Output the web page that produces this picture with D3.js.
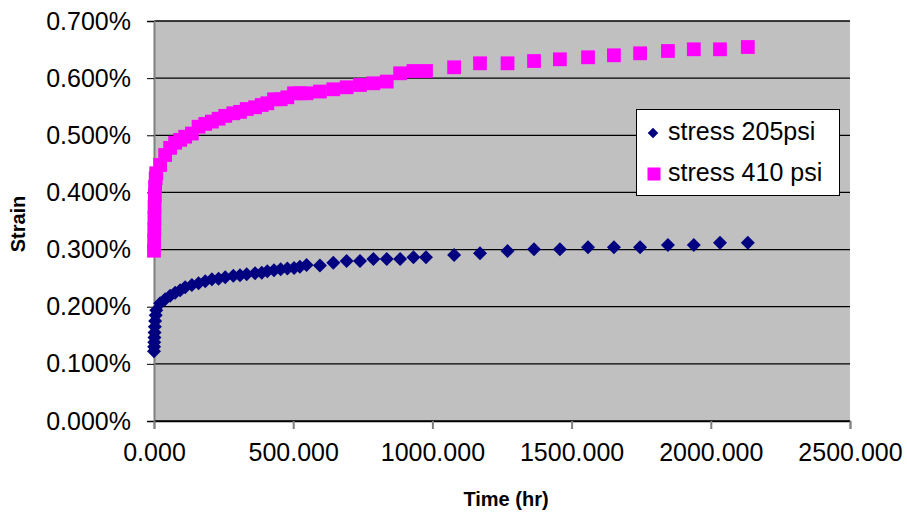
<!DOCTYPE html>
<html lang="en">
<head>
<meta charset="UTF-8">
<title>Strain vs Time</title>
<script src="https://d3js.org/d3.v7.min.js"></script>
<style>
  body { margin: 0; background: #fff; font-family: Arial, "Liberation Sans", sans-serif; }
  #chart { width: 907px; height: 516px; }
</style>
</head>
<body>
<div id="chart"></div>
<script>
// test times (hr), shared by both series
const times = [0, 0.5, 1, 1.5, 2, 3, 4, 6, 8,
  22, 40, 58, 76, 94, 112, 136, 160, 184, 208, 232, 256, 285, 309, 333, 363, 387, 407, 431, 455, 479, 503, 524, 548,
  596, 644, 692, 740, 788, 836, 884, 932, 977,
  1078, 1171, 1270, 1365, 1458, 1559, 1652, 1746, 1846, 1939, 2033, 2133];

// strain in percent
const strain205 = [0.122, 0.130, 0.138, 0.146, 0.155, 0.165, 0.175, 0.185, 0.194,
  0.206, 0.213, 0.219, 0.2245, 0.229, 0.234, 0.238, 0.241, 0.2445, 0.248, 0.249, 0.2515, 0.254, 0.255, 0.257, 0.2585, 0.2595, 0.262, 0.2637, 0.2655, 0.267, 0.2678, 0.270, 0.273,
  0.272, 0.277, 0.280, 0.280, 0.2835, 0.2835, 0.2835, 0.2865, 0.2865,
  0.2905, 0.2935, 0.2975, 0.3005, 0.3005, 0.304, 0.304, 0.304, 0.308, 0.308, 0.312, 0.312];

const strain410 = [0.298, 0.315, 0.335, 0.355, 0.375, 0.395, 0.41, 0.425, 0.4335,
  0.448, 0.4655, 0.478, 0.487, 0.492, 0.4975, 0.503, 0.515, 0.520, 0.524, 0.529, 0.534, 0.5385, 0.541, 0.546, 0.549, 0.553, 0.556, 0.563, 0.563, 0.5665, 0.5735, 0.5735, 0.5735,
  0.5765, 0.5805, 0.584, 0.588, 0.591, 0.594, 0.6085, 0.6125, 0.6125,
  0.619, 0.626, 0.626, 0.630, 0.633, 0.6365, 0.640, 0.6435, 0.6475, 0.6505, 0.6505, 0.6545];

const seriesNames = ["stress 205psi", "stress 410 psi"];
const xTicks = [0, 500, 1000, 1500, 2000, 2500];
const yTicks = [0, 0.1, 0.2, 0.3, 0.4, 0.5, 0.6, 0.7];

const width = 907, height = 516;
const plot = { left: 154, right: 850, top: 21, bottom: 421 };

const svg = d3.select("#chart").append("svg")
  .attr("width", width)
  .attr("height", height);

const x = d3.scaleLinear().domain([0, 2500]).range([plot.left, plot.right]);
const y = d3.scaleLinear().domain([0, 0.7]).range([plot.bottom, plot.top]);

// plot background
svg.append("rect")
  .attr("x", plot.left).attr("y", plot.top)
  .attr("width", plot.right - plot.left).attr("height", plot.bottom - plot.top)
  .attr("fill", "#c0c0c0");

// gridlines
svg.selectAll(".grid")
  .data(yTicks)
  .join("line")
  .attr("x1", plot.left).attr("x2", plot.right)
  .attr("y1", d => y(d)).attr("y2", d => y(d))
  .attr("stroke", "#000").attr("stroke-width", 1.3);

// y axis
const yAxis = d3.axisLeft(y).tickValues(yTicks).tickSize(7).tickPadding(16)
  .tickFormat(d => d3.format(".3f")(d) + "%");
const gy = svg.append("g").attr("transform", `translate(${plot.left},0)`).call(yAxis);
gy.select(".domain").attr("stroke", "#808080").attr("stroke-width", 2);
gy.selectAll(".tick line").attr("stroke", "#000");
gy.selectAll(".tick text")
  .attr("font-family", "Arial, 'Liberation Sans', sans-serif")
  .attr("font-size", 25).attr("fill", "#000");

// x axis
const xAxis = d3.axisBottom(x).tickValues(xTicks).tickSize(8).tickPadding(14)
  .tickFormat(d3.format(".3f"));
const gx = svg.append("g").attr("transform", `translate(0,${plot.bottom})`).call(xAxis);
gx.select(".domain").attr("stroke", "#000").attr("stroke-width", 1.3);
gx.selectAll(".tick line").attr("stroke", "#808080").attr("stroke-width", 2);
gx.selectAll(".tick text")
  .attr("font-family", "Arial, 'Liberation Sans', sans-serif")
  .attr("font-size", 25).attr("fill", "#000");

// axis titles
svg.append("text")
  .attr("x", 506).attr("y", 506)
  .attr("text-anchor", "middle")
  .attr("font-size", 20).attr("font-weight", "bold")
  .text("Time (hr)");

svg.append("text")
  .attr("transform", "translate(25,224) rotate(-90)")
  .attr("text-anchor", "middle")
  .attr("font-size", 20).attr("font-weight", "bold")
  .text("Strain");

// markers
const diamond = d3.symbol().type(d3.symbolSquare).size(98);
const square = d3.symbol().type(d3.symbolSquare).size(190);

svg.append("g").selectAll("path")
  .data(times.map((t, i) => [t, strain205[i]]))
  .join("path")
  .attr("d", diamond)
  .attr("transform", d => `translate(${x(d[0])},${y(d[1])}) rotate(45)`)
  .attr("fill", "#000080");

svg.append("g").selectAll("path")
  .data(times.map((t, i) => [t, strain410[i]]))
  .join("path")
  .attr("d", square)
  .attr("transform", d => `translate(${x(d[0])},${y(d[1])})`)
  .attr("fill", "#ff00ff");

// legend
const legend = svg.append("g").attr("transform", "translate(636,109)");
legend.append("rect")
  .attr("x", 0.5).attr("y", 0.5)
  .attr("width", 203).attr("height", 86)
  .attr("fill", "#fff").attr("stroke", "#000").attr("stroke-width", 1);

legend.append("path")
  .attr("d", d3.symbol().type(d3.symbolSquare).size(56))
  .attr("transform", "translate(17,24) rotate(45)")
  .attr("fill", "#000080");
legend.append("path")
  .attr("d", d3.symbol().type(d3.symbolSquare).size(170))
  .attr("transform", "translate(18,65)")
  .attr("fill", "#ff00ff");

legend.selectAll(".lbl")
  .data(seriesNames)
  .join("text")
  .attr("x", 32)
  .attr("y", (d, i) => 31 + i * 41)
  .attr("font-size", 25)
  .text(d => d);
</script>
</body>
</html>
